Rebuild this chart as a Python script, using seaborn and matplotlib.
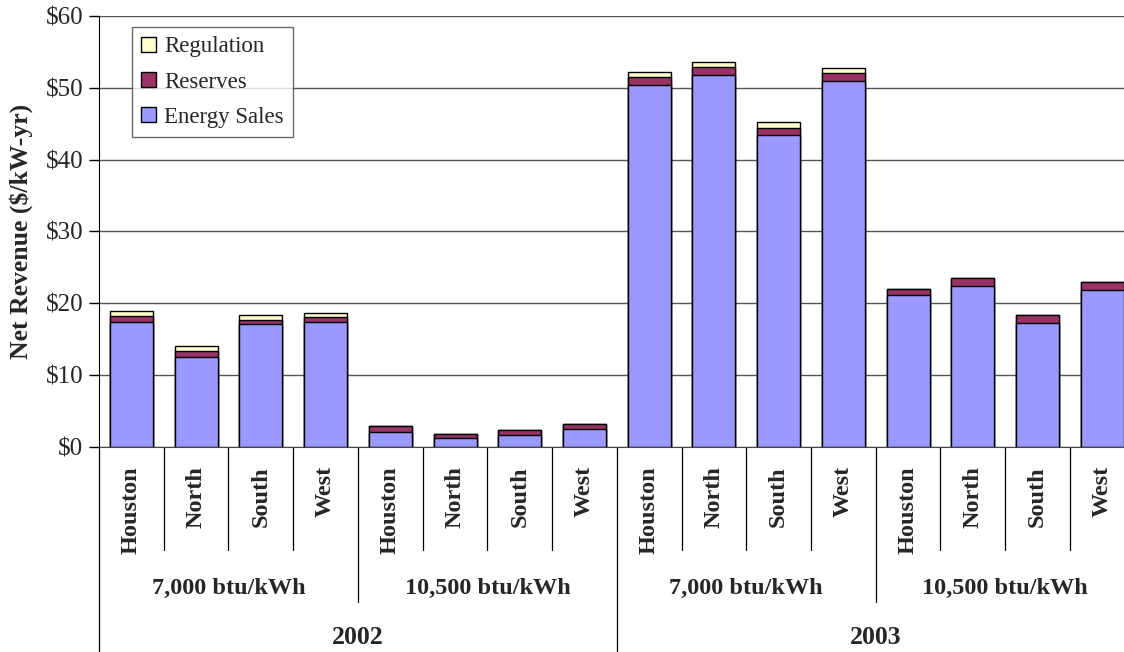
import matplotlib
matplotlib.use('Agg')
import matplotlib.pyplot as plt
from matplotlib.patches import Patch
import seaborn as sns

# 数据
years = ['2002', '2003']
heat_rates = ['7,000 btu/kWh', '10,500 btu/kWh']
zones = ['Houston', 'North', 'South', 'West']

energy_sales = [17.45, 12.5, 17.1, 17.45, 2.05, 1.2, 1.7, 2.45,
                50.45, 51.85, 43.5, 50.95, 21.15, 22.4, 17.3, 21.85]
reserves = [0.75, 0.8, 0.6, 0.7, 0.85, 0.6, 0.6, 0.75,
            1.05, 1.1, 0.95, 1.05, 0.9, 1.1, 1.05, 1.1]
regulation = [0.75, 0.7, 0.7, 0.55, 0.0, 0.0, 0.0, 0.0,
              0.7, 0.65, 0.85, 0.75, 0.0, 0.0, 0.0, 0.0]

c_energy = '#9999FF'
c_reserves = '#993366'
c_regulation = '#FFFFCC'

keys = [f'{y}|{h}|{z}' for y in years for h in heat_rates for z in zones]
lvl1 = [z for y in years for h in heat_rates for z in zones]
tot_res = [e + r for e, r in zip(energy_sales, reserves)]
tot_all = [t + g for t, g in zip(tot_res, regulation)]

sns.set_style('white')
plt.rcParams['font.family'] = ['Liberation Serif', 'DejaVu Serif']
plt.rcParams['font.size'] = 16

fig = plt.figure(figsize=(11.24, 6.52), dpi=100)
ax = fig.add_axes([0.0881, 0.3144, 0.9214, 0.6611])

# 堆叠柱：从总高度开始逐层覆盖
bar_kw = dict(order=keys, width=0.665, edgecolor='black', linewidth=1.0, ax=ax)
sns.barplot(x=keys, y=tot_all, color=c_regulation, saturation=1, **bar_kw)
sns.barplot(x=keys, y=tot_res, color=c_reserves, saturation=1, **bar_kw)
sns.barplot(x=keys, y=energy_sales, color=c_energy, saturation=1, **bar_kw)

ax.set_xlim(-0.5, 15.5)
ax.set_ylim(0, 60)
ax.set_yticks(range(0, 61, 10))
ax.set_yticklabels([f'\\${v}' for v in range(0, 61, 10)], fontsize=18)
ax.tick_params(axis='y', direction='out', length=7, width=1, color='black', pad=4.5, left=True)
ax.set_xticks([])
ax.set_xlabel('')
ax.set_ylabel('Net Revenue (\\$/kW-yr)', fontsize=18.5, fontweight='bold')
ax.yaxis.set_label_coords(-0.064, 0.5)

ax.set_axisbelow(True)
ax.yaxis.grid(True, color='#555555', linewidth=1.0)
for s in ['top', 'right']:
    ax.spines[s].set_visible(False)
ax.spines['left'].set_color('black')
ax.spines['bottom'].set_color('#444444')

# 多级分类轴
trans = ax.get_xaxis_transform()
line_kw = dict(transform=trans, clip_on=False, color='black', linewidth=0.9)
for i in range(16):
    ax.text(i, -0.044, lvl1[i], transform=trans, rotation=90, ha='center', va='top',
            fontsize=17.5, fontweight='bold')
for b in range(1, 16):
    xb = b - 0.5
    if b == 8:
        y_end = -0.48
    elif b % 4 == 0:
        y_end = -0.36
    else:
        y_end = -0.239
    ax.plot([xb, xb], [0, y_end], **line_kw)
ax.plot([-0.5, -0.5], [0, -0.48], **line_kw)

for j in range(4):
    ax.text(j * 4 + 1.5, -0.327, heat_rates[j % 2], transform=trans, ha='center', va='center',
            fontsize=17.5, fontweight='bold')
for k, y in enumerate(years):
    ax.text(k * 8 + 3.5, -0.443, y, transform=trans, ha='center', va='center',
            fontsize=18.5, fontweight='bold')

handles = [Patch(facecolor=c_regulation, edgecolor='black', label='Regulation'),
           Patch(facecolor=c_reserves, edgecolor='black', label='Reserves'),
           Patch(facecolor=c_energy, edgecolor='black', label='Energy Sales')]
leg = ax.legend(handles=handles, loc='upper left', bbox_to_anchor=(0.032, 0.974),
                fontsize=16.5, frameon=True, fancybox=False, edgecolor='#444444',
                handlelength=0.65, handleheight=0.65, handletextpad=0.35,
                labelspacing=0.62, borderpad=0.4, borderaxespad=0)
leg.get_frame().set_linewidth(1.0)

plt.savefig('out.png', dpi=100)
